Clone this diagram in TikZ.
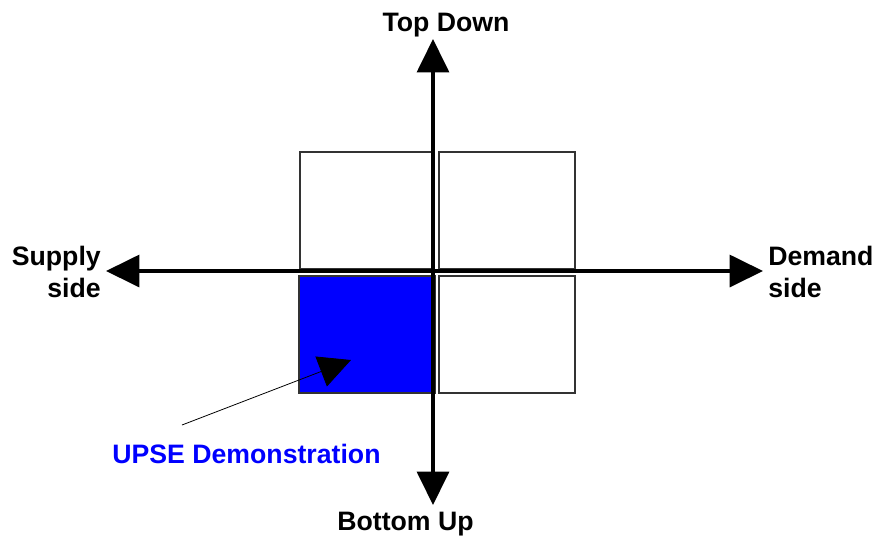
\documentclass[tikz,border=0pt]{standalone}
\usepackage{fontspec}
\setmainfont{Liberation Sans}
\usepackage{xcolor}
\usetikzlibrary{arrows.meta,positioning}
\definecolor{upseb}{HTML}{0000FF}
\definecolor{edgec}{HTML}{333333}
\tikzset{
  ax/.style={{Triangle[length=25pt,width=24pt]}-{Triangle[length=25pt,width=24pt]},line width=2.3pt,black},
  quad/.style={draw=edgec,line width=0.8pt,fill=white,inner sep=0pt,outer sep=0pt,minimum height=87.75pt},
  lbl/.style={font=\fontsize{20}{24.5}\selectfont\bfseries,inner sep=0pt}
}
\begin{document}
\begin{tikzpicture}[x=0.75pt,y=-0.75pt]
\useasboundingbox (0,0) rectangle (875,537);
\coordinate (O) at (433,271);
\coordinate (N) at (433,39);
\coordinate (S) at (433,505);
\coordinate (W) at (106,271);
\coordinate (E) at (763,271);
% quadrants
\node[quad,minimum width=99.75pt] (tl) at (366.5,210.5) {};
\node[quad,minimum width=102pt] (tr) at (507,210.5) {};
\node[quad,minimum width=102pt,fill=upseb] (bl) at (367,334.5) {};
\node[quad,minimum width=102pt] (br) at (507,334.5) {};
% axes
\draw[ax] (W)--(E);
\draw[ax] (S)--(N);
\node[lbl,anchor=base] (top) at (446,31) {Top Down};
\node[lbl,anchor=base] (bot) at (405.5,530) {Bottom Up};
\node[lbl,anchor=east,align=right] (sup) at (101,272) {Supply\\side};
\node[lbl,anchor=west,align=left] (dem) at (768,272) {Demand\\side};
% callout
\node[lbl,anchor=base,upseb] (upse) at (246.5,463) {UPSE Demonstration};
\coordinate (cf) at (182,425);
\coordinate (ct) at (351,360);
\draw[-{Triangle[length=24pt,width=24pt]},line width=0.6pt] (cf)--(ct);
\end{tikzpicture}
\end{document}
